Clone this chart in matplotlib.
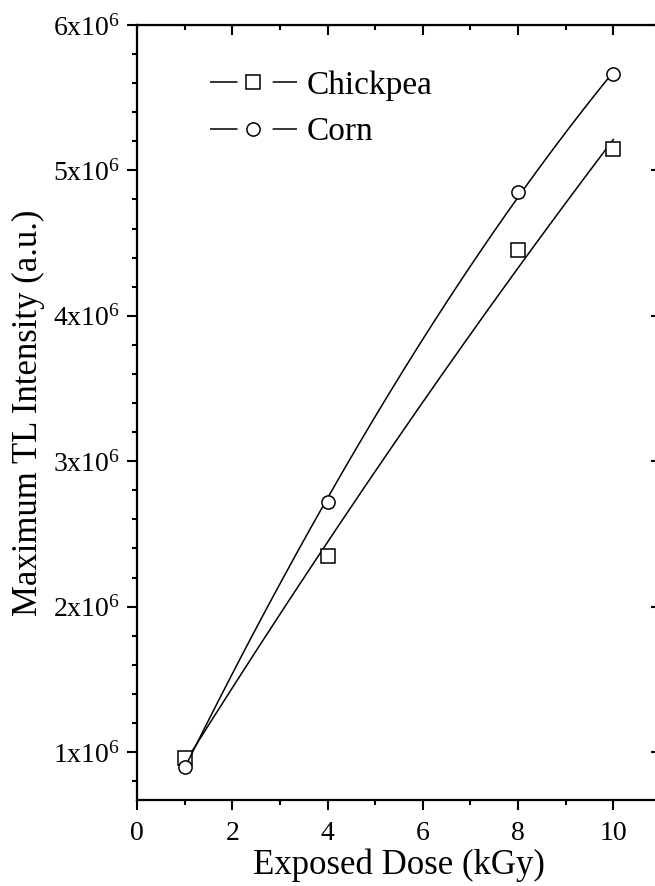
import numpy as np
import matplotlib
matplotlib.use("Agg")
import matplotlib.pyplot as plt
from matplotlib.ticker import MultipleLocator, FuncFormatter
from matplotlib.lines import Line2D

plt.rcParams['font.family'] = ['Liberation Serif', 'DejaVu Serif']
plt.rcParams['mathtext.fontset'] = 'custom'
plt.rcParams['mathtext.rm'] = 'Liberation Serif'
plt.rcParams['mathtext.it'] = 'Liberation Serif:italic'

# data
dose = [1, 4, 8, 10]
chickpea = [0.96e6, 2.35e6, 4.45e6, 5.15e6]
corn = [0.90e6, 2.72e6, 4.85e6, 5.66e6]
series_names = ['Chickpea', 'Corn']

fig = plt.figure(figsize=(6.55, 8.86), dpi=100)
ax = fig.add_axes([137/655, 1-800/886, (661-137)/655, (800-25)/886])

xs = np.linspace(1, 10, 200)
for y, mk in [(chickpea, 's'), (corn, 'o')]:
    c = np.polyfit(dose, y, 2)
    ax.plot(xs, np.polyval(c, xs), color='black', lw=1.1)
    ax.plot(dose, y, linestyle='none', marker=mk, ms=9.5, mfc='white',
            mec='black', mew=1.1)

ax.set_xlim(0, 11)
ax.set_ylim(0.67e6, 6e6)

ax.xaxis.set_major_locator(MultipleLocator(2))
ax.xaxis.set_minor_locator(MultipleLocator(1))
ax.yaxis.set_major_locator(MultipleLocator(1e6))
ax.yaxis.set_minor_locator(MultipleLocator(0.2e6))

def sci(v, pos):
    n = int(round(v / 1e6))
    return r'$\mathregular{%dx10^{6}}$' % n

ax.yaxis.set_major_formatter(FuncFormatter(sci))

for s in ax.spines.values():
    s.set_linewidth(1.6)

ax.tick_params(which='both', direction='out', width=1.5, labelsize=20, pad=5)
ax.tick_params(which='major', length=7)
ax.tick_params(which='minor', length=3.8)
ax.tick_params(axis='x', pad=8)

# top and right axes with inward ticks, no labels
top = ax.secondary_xaxis('top')
top.xaxis.set_major_locator(MultipleLocator(2))
top.xaxis.set_minor_locator(MultipleLocator(1))
top.tick_params(which='both', direction='in', width=1.5, labeltop=False)
top.tick_params(which='major', length=7)
top.tick_params(which='minor', length=3.8)
right = ax.secondary_yaxis('right')
right.yaxis.set_major_locator(MultipleLocator(1e6))
right.yaxis.set_minor_locator(MultipleLocator(0.2e6))
right.tick_params(which='both', direction='in', width=1.5, labelright=False)
right.tick_params(which='major', length=7)
right.tick_params(which='minor', length=3.8)

ax.set_xlabel('Exposed Dose (kGy)', fontsize=25, labelpad=2)
ax.set_ylabel('Maximum TL Intensity (a.u.)', fontsize=25, labelpad=6)

handles = [
    Line2D([], [], color='black', lw=1.1, marker='s', ms=9.5, mfc='white',
           mec='black', mew=1.1, linestyle=(0, (18, 23))),
    Line2D([], [], color='black', lw=1.1, marker='o', ms=9.5, mfc='white',
           mec='black', mew=1.1, linestyle=(0, (18, 23))),
]
ax.legend(handles, series_names, loc='upper left', bbox_to_anchor=(0.082, 0.98),
          frameon=False, fontsize=24, handlelength=2.6, handletextpad=0.3,
          labelspacing=0.48, numpoints=1)

fig.savefig('out.png', dpi=100)
